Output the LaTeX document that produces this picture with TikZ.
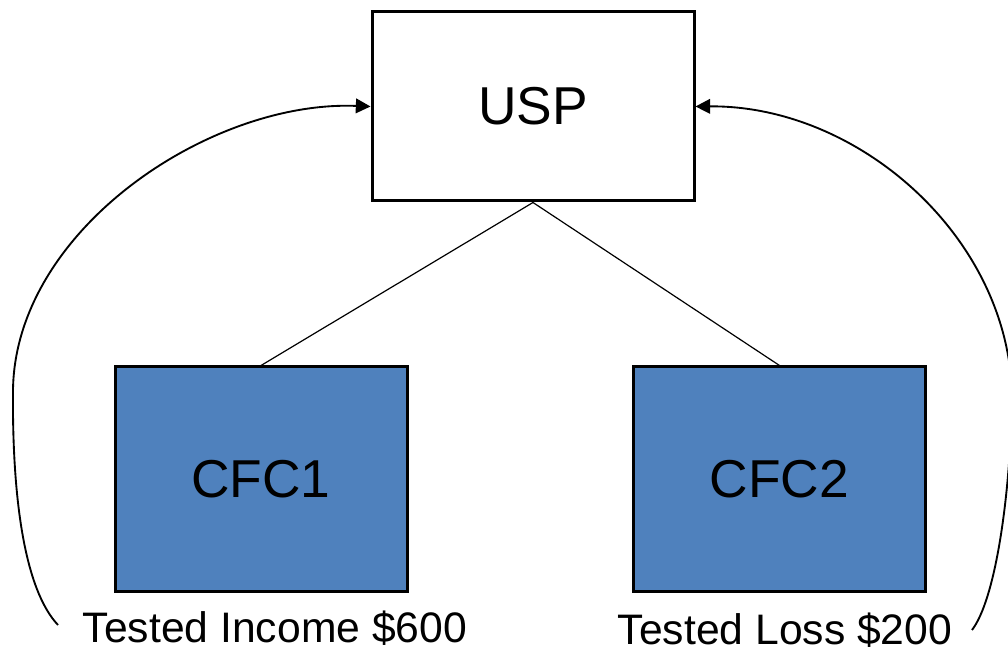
\documentclass[tikz,border=0pt]{standalone}
\usepackage{fontspec}
\setmainfont{Liberation Sans}
\usetikzlibrary{arrows.meta}
\definecolor{cfcblue}{HTML}{4F81BD}
\tikzset{
  box/.style={draw=black, line width=2.25pt, rectangle, inner sep=0pt},
  uspbox/.style={box, fill=white, minimum width=241.5pt, minimum height=141.75pt, font=\fontsize{40}{48}\selectfont},
  cfcbox/.style={box, fill=cfcblue, minimum width=219pt, minimum height=168pt, font=\fontsize{40}{48}\selectfont},
  lbl/.style={anchor=base, inner sep=0pt, font=\fontsize{32}{38}\selectfont},
  tie/.style={draw=black, line width=0.9pt},
  flow/.style={draw=black, line width=1.4pt, -{Triangle[length=11pt,width=11pt]}}
}
\begin{document}
\begin{tikzpicture}[x=0.75pt,y=-0.75pt]
\useasboundingbox (0,0) rectangle (1008,652);
\node[uspbox] (usp) at (533,106.5) {USP};
\node[cfcbox] (cfc1) at (261,479) {CFC1};
\node[cfcbox] (cfc2) at (779.5,479) {CFC2};
\node[lbl] (ti) at (275,642) {Tested Income \$600};
\node[lbl] (tl) at (785,644) {Tested Loss \$200};
\coordinate (ls) at (58,625);
\coordinate (rs) at (972,630);
\draw[tie] (usp.south) -- (cfc1.north);
\draw[tie] (usp.south) -- (cfc2.north);
\draw[flow] (ls) .. controls (25,590) and (12,500) .. (13,390) .. controls (15,230) and (210,100) .. (usp.west);
\draw[flow] (rs) .. controls (995,600) and (1010,500) .. (1012,400) .. controls (1012,240) and (860,105) .. (usp.east);
\end{tikzpicture}
\end{document}
